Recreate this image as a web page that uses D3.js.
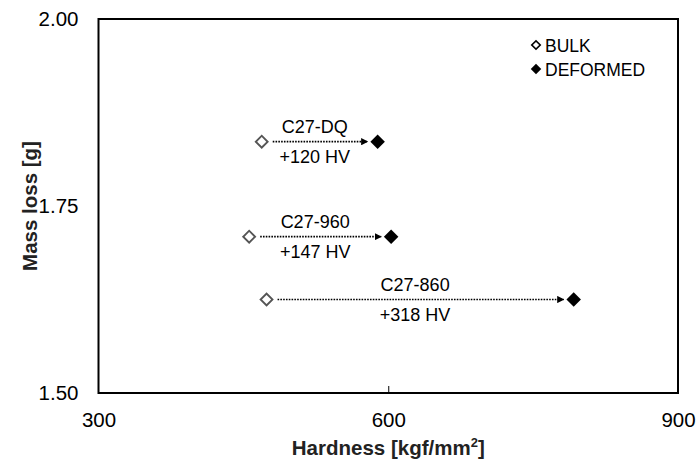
<!DOCTYPE html>
<html>
<head>
<meta charset="utf-8">
<script src="https://cdn.jsdelivr.net/npm/d3@7"></script>
<style>
  body { margin: 0; background: #fff; }
  text { font-family: "Liberation Sans", Arial, sans-serif; }
</style>
</head>
<body>
<div id="chart"></div>
<script>
// data
const grades = ["C27-DQ", "C27-960", "C27-860"];
const bulkHardness = [469, 456, 474];
const deformedHardness = [589, 603, 792];
const massLoss = [1.836, 1.709, 1.625];
const hvLabels = ["+120 HV", "+147 HV", "+318 HV"];
const xTicks = [300, 600, 900];
const yTicks = [1.50, 1.75, 2.00];
const legendNames = ["BULK", "DEFORMED"];

//margins for chart
const margin = {top: 19, right: 19, bottom: 68, left: 98.5},
  width = 697 - margin.left - margin.right,
  height = 461 - margin.top - margin.bottom;

const svg = d3.select("#chart")
  .append("svg")
  .attr("width", 697)
  .attr("height", 461)
  .append("g")
  .attr("transform", `translate(${margin.left},${margin.top})`);

const x = d3.scaleLinear().domain([300, 900]).range([0, width]);
const y = d3.scaleLinear().domain([1.5, 2.0]).range([height, 0]);

// arrow head
svg.append("defs").append("marker")
  .attr("id", "arrow")
  .attr("viewBox", "0 0 10 10")
  .attr("refX", 9).attr("refY", 5)
  .attr("markerWidth", 4.5).attr("markerHeight", 4.5)
  .attr("markerUnits", "strokeWidth")
  .attr("orient", "auto")
  .append("path")
  .attr("d", "M0,0 L10,5 L0,10 Z")
  .attr("fill", "#000");

//X axis (inward ticks, only middle one visible)
const xAxis = svg.append("g")
  .attr("transform", `translate(0,${height})`)
  .call(d3.axisBottom(x).tickValues(xTicks).tickSizeInner(-7).tickSizeOuter(0).tickPadding(19));
xAxis.select(".domain").remove();
xAxis.selectAll(".tick line").attr("stroke", "#000").attr("stroke-width", 1)
  .style("display", d => (d === 600 ? null : "none"));
xAxis.selectAll(".tick text")
  .attr("font-size", 20.5).attr("fill", "#000")
  .attr("dy", "0.71em");

//Y axis
const yAxis = svg.append("g")
  .call(d3.axisLeft(y).tickValues(yTicks).tickFormat(d3.format(".2f")).tickSize(0).tickPadding(20));
yAxis.select(".domain").remove();
yAxis.selectAll(".tick text")
  .attr("font-size", 20.5).attr("fill", "#000");

// plot frame
svg.append("rect")
  .attr("x", 0).attr("y", 0)
  .attr("width", width).attr("height", height)
  .attr("fill", "none")
  .attr("stroke", "#000")
  .attr("stroke-width", 2);

// axis titles
svg.append("text")
  .attr("x", x(600))
  .attr("y", height + 62)
  .attr("text-anchor", "middle")
  .attr("font-size", 20.5)
  .attr("font-weight", "bold")
  .attr("fill", "#222")
  .call(t => {
    t.append("tspan").text("Hardness [kgf/mm");
    t.append("tspan").attr("font-size", 13).attr("dy", -8).text("2");
    t.append("tspan").attr("dy", 8).text("]");
  });

svg.append("text")
  .attr("transform", `translate(${-margin.left + 37},${y(1.75)}) rotate(-90)`)
  .attr("text-anchor", "middle")
  .attr("font-size", 20.5)
  .attr("font-weight", "bold")
  .attr("fill", "#222")
  .text("Mass loss [g]");

// diamond shape
const diamond = function(size) {
  return d3.symbol().type(d3.symbolSquare).size(size)();
};

// dotted arrows between bulk and deformed
svg.selectAll(".link")
  .data(grades)
  .enter().append("line")
  .attr("class", "link")
  .attr("x1", (d, i) => x(bulkHardness[i]) + 11)
  .attr("x2", (d, i) => x(deformedHardness[i]) - 10)
  .attr("y1", (d, i) => y(massLoss[i]))
  .attr("y2", (d, i) => y(massLoss[i]))
  .attr("stroke", "#000")
  .attr("stroke-width", 1.6)
  .attr("stroke-dasharray", "1.6,1.2")
  .attr("marker-end", "url(#arrow)");

// bulk points
svg.selectAll(".bulk")
  .data(grades)
  .enter().append("path")
  .attr("class", "bulk")
  .attr("d", diamond(70))
  .attr("transform", (d, i) => `translate(${x(bulkHardness[i])},${y(massLoss[i])}) rotate(45)`)
  .attr("fill", "#fff")
  .attr("stroke", "#555")
  .attr("stroke-width", 1.9);

// deformed points
svg.selectAll(".deformed")
  .data(grades)
  .enter().append("path")
  .attr("class", "deformed")
  .attr("d", diamond(105))
  .attr("transform", (d, i) => `translate(${x(deformedHardness[i])},${y(massLoss[i])}) rotate(45)`)
  .attr("fill", "#000");

// grade names above, hardness increase below
svg.selectAll(".grade")
  .data(grades)
  .enter().append("text")
  .attr("class", "grade")
  .attr("x", (d, i) => (x(bulkHardness[i]) + x(deformedHardness[i])) / 2 - 5)
  .attr("y", (d, i) => y(massLoss[i]) - 9)
  .attr("text-anchor", "middle")
  .attr("font-size", 18)
  .attr("fill", "#000")
  .text(d => d);

svg.selectAll(".hv")
  .data(hvLabels)
  .enter().append("text")
  .attr("class", "hv")
  .attr("x", (d, i) => (x(bulkHardness[i]) + x(deformedHardness[i])) / 2 - 5)
  .attr("y", (d, i) => y(massLoss[i]) + 21)
  .attr("text-anchor", "middle")
  .attr("font-size", 18)
  .attr("fill", "#000")
  .text(d => d);

// legend
const legend = svg.selectAll(".legend")
  .data(legendNames)
  .enter().append("g")
  .attr("class", "legend")
  .attr("transform", (d, i) => `translate(${536 - margin.left},${45 - margin.top + i * 24})`);

legend.append("path")
  .attr("d", (d, i) => diamond(i === 0 ? 36 : 55))
  .attr("transform", "rotate(45)")
  .attr("fill", (d, i) => (i === 0 ? "#fff" : "#000"))
  .attr("stroke", (d, i) => (i === 0 ? "#000" : "none"))
  .attr("stroke-width", 1.6);

legend.append("text")
  .attr("x", 9)
  .attr("y", 6.5)
  .attr("font-size", 17.5)
  .attr("fill", "#000")
  .text(d => d);
</script>
</body>
</html>
